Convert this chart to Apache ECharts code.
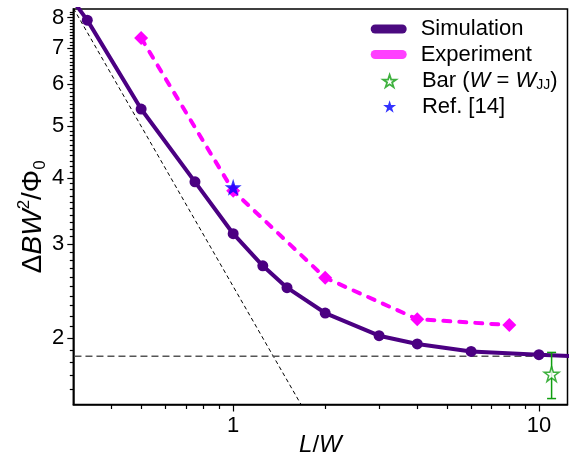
<!DOCTYPE html>
<html><head><meta charset="utf-8">
<script src="https://cdn.jsdelivr.net/npm/echarts@6/dist/echarts.min.js"></script>
<style>html,body{margin:0;padding:0;background:#fff}#c{width:569px;height:457px}</style>
</head><body><div id="c"></div>
<script>
// ---- data ----
const simX = [0.25, 0.3333, 0.5, 0.75, 1, 1.25, 1.5, 2, 3, 4, 6, 10, 20];
const simY = [9.9, 7.91, 5.385, 3.93, 3.14, 2.733, 2.486, 2.228, 2.02, 1.949, 1.887, 1.861, 1.83];
const expX = [0.5, 1, 2, 4, 8];
const expY = [7.32, 3.78, 2.595, 2.17, 2.115];
const barX = [11];
const barY = [1.712];
const barLow = [1.539];
const barHigh = [1.879];
const refX = [1];
const refY = [3.84];
const guideX = [0.25, 2];      // black dashed guide (~1/x)
const guideY = [10, 1.25];
const floorX = [0.2, 20];      // grey dashed horizontal level
const floorY = [1.848, 1.848];
// ---- axes / ticks ----
const xRange = [0.3, 12.4];
const yRange = [1.5, 8.3];
const xMajor = [1, 10];
const xMinor = [0.4, 0.5, 0.6, 0.7, 0.8, 0.9, 2, 3, 4, 5, 6, 7, 8, 9];
const yMajor = [2, 3, 4, 5, 6, 7, 8];
const yMinor = [1.6, 1.7, 1.8, 1.9,
  2.1, 2.2, 2.3, 2.4, 2.5, 2.6, 2.7, 2.8, 2.9,
  3.1, 3.2, 3.3, 3.4, 3.5, 3.6, 3.7, 3.8, 3.9,
  4.1, 4.2, 4.3, 4.4, 4.5, 4.6, 4.7, 4.8, 4.9,
  5.1, 5.2, 5.3, 5.4, 5.5, 5.6, 5.7, 5.8, 5.9,
  6.1, 6.2, 6.3, 6.4, 6.5, 6.6, 6.7, 6.8, 6.9,
  7.1, 7.2, 7.3, 7.4, 7.5, 7.6, 7.7, 7.8, 7.9,
  8.1, 8.2];

const FONT = 'Liberation Sans, Arial, sans-serif';
const PURPLE = '#4b0082', MAGENTA = '#ff00ff', GREEN = '#0f9e0f', BLUE = '#0000ff';
const STAR = 'path://M100,0 L122.45,69.1 L195.1,69.1 L136.33,111.8 L158.8,180.9 L100,138.2 L41.2,180.9 L63.67,111.8 L4.9,69.1 L77.55,69.1 Z';
const CAPSULE = 'path://M4.5,0 L31.5,0 A4.5,4.5 0 0 1 31.5,9 L4.5,9 A4.5,4.5 0 0 1 4.5,0 Z';
const pairs = (xs, ys) => xs.map((x, i) => [x, ys[i]]);
const tickLine = {color: '#000', width: 1.2};

const chart = echarts.init(document.getElementById('c'), null, {renderer: 'canvas'});
chart.setOption({
  animation: false,
  backgroundColor: '#fff',
  grid: {left: 73.3, right: 1.5, top: 9, bottom: 52.5, show: true, borderColor: '#000', borderWidth: 1.5,
         containLabel: false, outerBoundsMode: 'none'},
  legend: [
    {orient: 'vertical', left: 370.7, top: 18, padding: 0, itemWidth: 36, itemHeight: 9, itemGap: 3.5,
     selectedMode: false, symbolKeepAspect: false,
     textStyle: {fontFamily: FONT, fontSize: 22, color: '#000', lineHeight: 22, padding: [0, 0, 0, 9]},
     data: [
       {name: 'Simulation', icon: CAPSULE, itemStyle: {color: '#4b0a80'}},
       {name: 'Experiment', icon: CAPSULE, itemStyle: {color: '#ff40ff'}}
     ]},
    {orient: 'vertical', left: 382.2, top: 70, padding: 0, itemWidth: 13, itemHeight: 13, itemGap: 3.5,
     selectedMode: false,
     formatter: function (n) { return n === 'Bar' ? 'Bar ({i|W} = {i|W}{sub|JJ})' : n; },
     textStyle: {fontFamily: FONT, fontSize: 22, color: '#000', lineHeight: 22, padding: [0, 0, 0, 20.8],
       rich: {i: {fontFamily: FONT, fontSize: 22, fontStyle: 'italic', lineHeight: 22},
              sub: {fontFamily: FONT, fontSize: 14, verticalAlign: 'bottom', lineHeight: 22}}},
     data: [
       {name: 'Bar', icon: STAR, itemStyle: {color: '#fff', borderColor: GREEN, borderWidth: 1.8}},
       {name: 'Ref. [14]', icon: STAR, itemStyle: {color: BLUE}}
     ]}
  ],
  xAxis: [
    {type: 'log', logBase: 10, min: xRange[0], max: xRange[1], position: 'bottom',
     axisLine: {show: true, onZero: false, lineStyle: {color: '#000', width: 1.5}},
     axisTick: {show: true, inside: false, length: 7, lineStyle: tickLine, customValues: xMajor},
     axisLabel: {customValues: xMajor, fontFamily: FONT, fontSize: 22, color: '#000', margin: 10},
     splitLine: {show: false}, minorTick: {show: false},
     name: '{i|L}/{i|W}', nameLocation: 'middle', nameGap: 28, nameMoveOverlap: false,
     nameTextStyle: {fontFamily: FONT, fontSize: 24, color: '#000', lineHeight: 26,
       rich: {i: {fontFamily: FONT, fontSize: 24, fontStyle: 'italic', lineHeight: 26}}}},
    {type: 'log', logBase: 10, min: xRange[0], max: xRange[1], position: 'bottom',
     axisLine: {show: false, onZero: false},
     axisTick: {show: true, inside: false, length: 4.5, lineStyle: tickLine, customValues: xMinor},
     axisLabel: {show: false}, splitLine: {show: false}}
  ],
  yAxis: [
    {type: 'log', logBase: 10, min: yRange[0], max: yRange[1], position: 'left',
     axisLine: {show: true, onZero: false, lineStyle: {color: '#000', width: 1.5}},
     axisTick: {show: true, inside: false, length: 6, lineStyle: tickLine, customValues: yMajor},
     axisLabel: {customValues: yMajor, fontFamily: FONT, fontSize: 22, color: '#000', margin: 9},
     splitLine: {show: false}, minorTick: {show: false},
     name: '{d|Δ}{i|BW}{sup|2}{d|/Φ}{sub|0}', nameLocation: 'middle', nameGap: 24, nameRotate: 90,
     nameMoveOverlap: false,
     nameTextStyle: {fontFamily: FONT, fontSize: 28, color: '#000', padding: [0, 20, 0, 0],
       rich: {d: {fontFamily: FONT, fontSize: 28, lineHeight: 33},
              i: {fontFamily: FONT, fontSize: 28, fontStyle: 'italic', lineHeight: 33},
              sup: {fontFamily: FONT, fontSize: 17, verticalAlign: 'top'},
              sub: {fontFamily: FONT, fontSize: 17, verticalAlign: 'bottom'}}}},
    {type: 'log', logBase: 10, min: yRange[0], max: yRange[1], position: 'left',
     axisLine: {show: false, onZero: false},
     axisTick: {show: true, inside: false, length: 3.5, lineStyle: tickLine, customValues: yMinor},
     axisLabel: {show: false}, splitLine: {show: false}}
  ],
  series: [
    {name: 'guide', type: 'line', data: pairs(guideX, guideY), symbol: 'none', silent: true, z: 1,
     lineStyle: {color: '#000', width: 1, type: [4, 3]}},
    {name: 'floor', type: 'line', data: pairs(floorX, floorY), symbol: 'none', silent: true, z: 1,
     lineStyle: {color: '#555', width: 1.5, type: [7, 4]}},
    {name: 'Simulation', type: 'line', data: pairs(simX, simY), symbol: 'circle', symbolSize: 11, z: 3,
     itemStyle: {color: PURPLE}, lineStyle: {color: PURPLE, width: 4}},
    {name: 'Experiment', type: 'line', data: pairs(expX, expY), symbol: 'diamond', symbolSize: 14, z: 2,
     itemStyle: {color: MAGENTA}, lineStyle: {color: MAGENTA, width: 4, type: [7, 9], cap: 'round'}},
    {name: 'err', type: 'custom', z: 4, encode: {x: 0, y: [1, 2]},
     data: barX.map((x, i) => [x, barLow[i], barHigh[i]]),
     renderItem: function (params, api) {
       const x = api.value(0);
       const lo = api.coord([x, api.value(1)]);
       const hi = api.coord([x, api.value(2)]);
       const hw = 4.5;
       const st = {stroke: GREEN, lineWidth: 1.5};
       return {type: 'group', children: [
         {type: 'line', shape: {x1: lo[0], y1: lo[1], x2: hi[0], y2: hi[1]}, style: st},
         {type: 'line', shape: {x1: lo[0] - hw, y1: lo[1], x2: lo[0] + hw, y2: lo[1]}, style: st},
         {type: 'line', shape: {x1: hi[0] - hw, y1: hi[1], x2: hi[0] + hw, y2: hi[1]}, style: st}
       ]};
     }},
    {name: 'Bar', type: 'scatter', data: pairs(barX, barY), symbol: STAR, symbolSize: 15, z: 5,
     itemStyle: {color: '#fff', borderColor: GREEN, borderWidth: 1.5}},
    {name: 'Ref. [14]', type: 'scatter', data: pairs(refX, refY), symbol: STAR, symbolSize: 17, z: 5,
     itemStyle: {color: BLUE}}
  ]
});
</script></body></html>
